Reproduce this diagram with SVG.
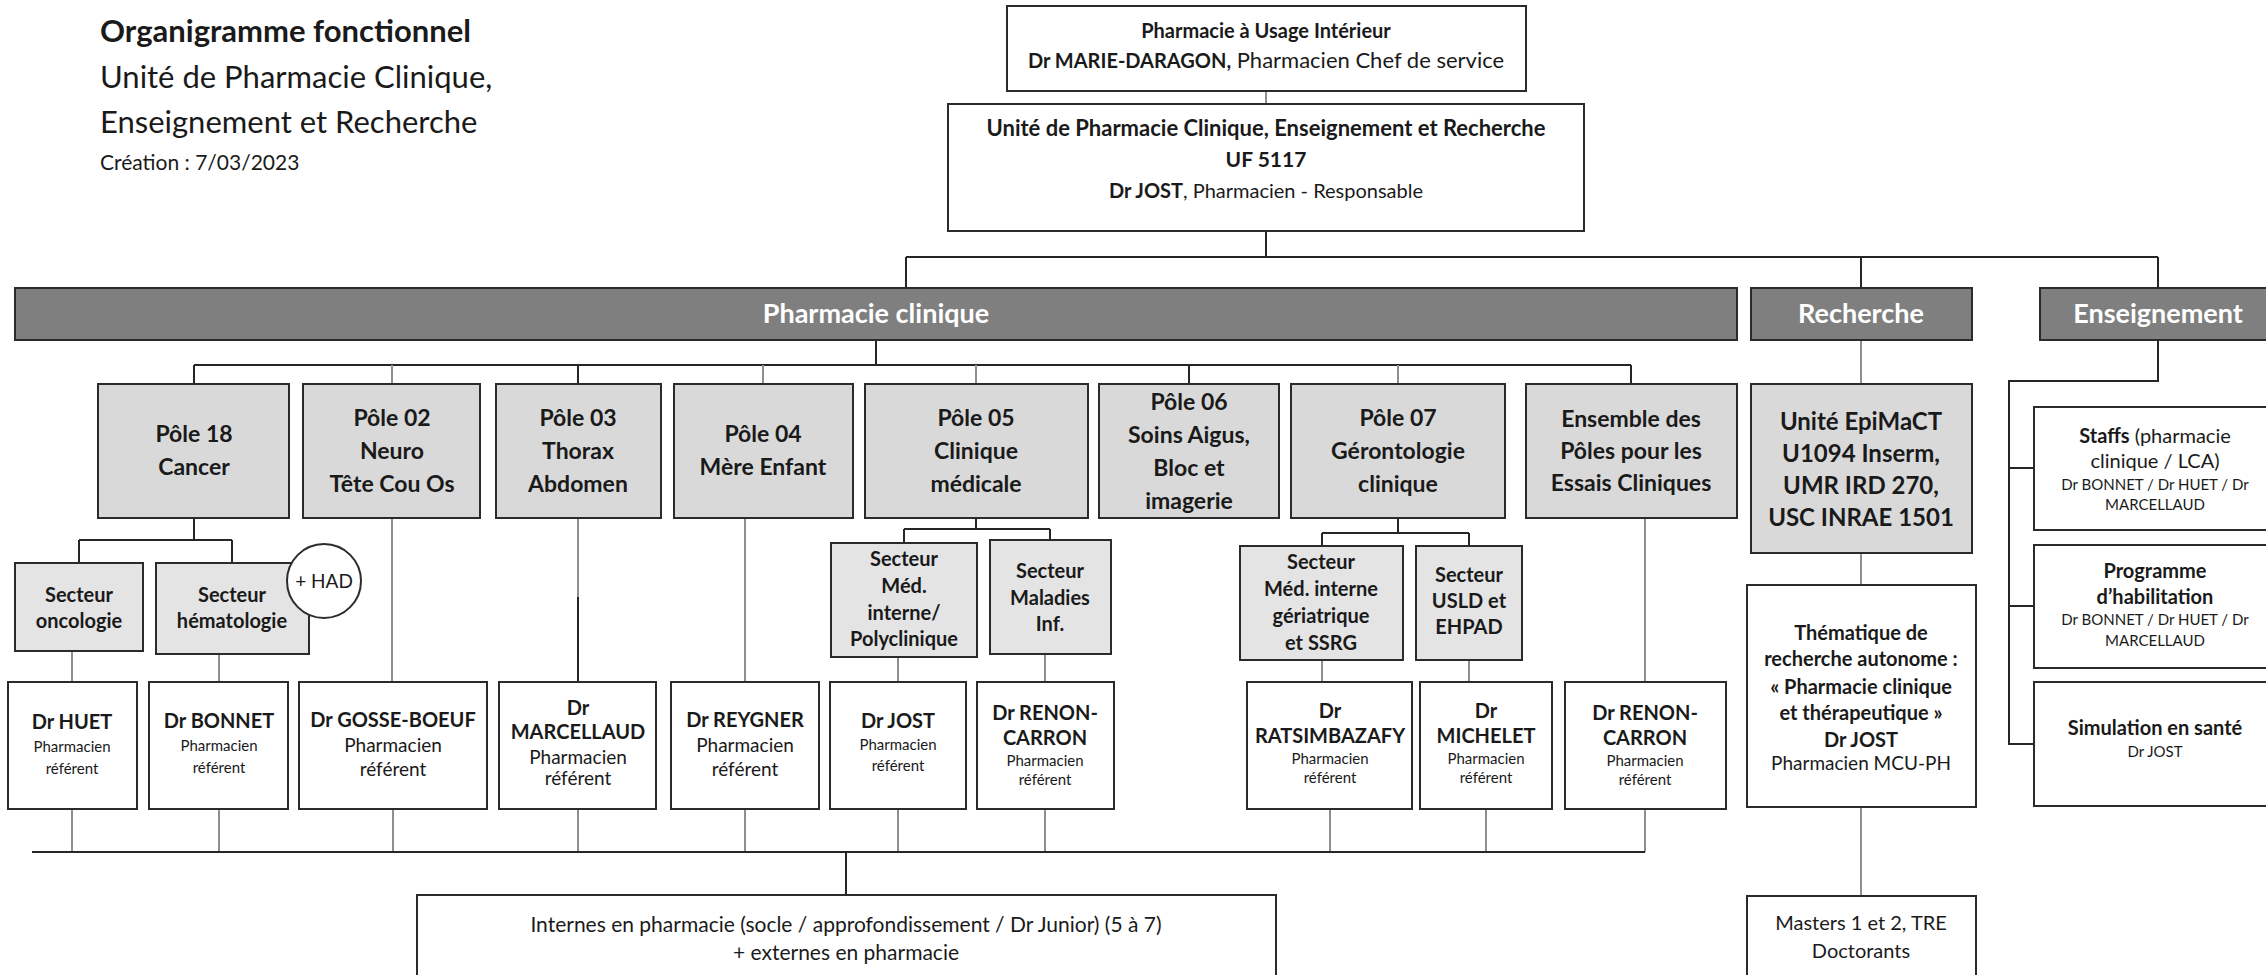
<svg xmlns="http://www.w3.org/2000/svg" width="2266" height="975" viewBox="0 0 2266 975">
<style>
text{font-family:Lato,"Open Sans","Liberation Sans",sans-serif;fill:#1a1a1a;text-anchor:middle}
.t{text-anchor:start}
.b{font-weight:bold}
.bar{fill:#7f7f7f;stroke:#2b2b2b;stroke-width:2}
.bt{fill:#fff;font-weight:bold;font-size:27px}
.pole{fill:#d9d9d9;stroke:#2b2b2b;stroke-width:2}
.sect{fill:#e4e4e4;stroke:#2b2b2b;stroke-width:2}
.box{fill:#fff;stroke:#2b2b2b;stroke-width:2}
.pt{font-weight:bold;font-size:23px}
.st{font-weight:bold;font-size:20px}
.dn{font-weight:bold;font-size:20px}
.sm{font-size:15px}
.rg{font-size:19px}
.dk{stroke:#262626;stroke-width:2;fill:none}
.gy{stroke:#8f8f8f;stroke-width:2;fill:none}
</style>

<g id="title">
<text class="t b" x="100" y="42" font-size="31">Organigramme fonctionnel</text>
<text class="t" x="100" y="88" font-size="31">Unité de Pharmacie Clinique,</text>
<text class="t" x="100" y="133" font-size="31">Enseignement et Recherche</text>
<text class="t" x="100" y="170" font-size="21">Création : 7/03/2023</text>
</g>

<g id="connectors">
<path class="gy" d="M1266 91V104"/>
<path class="dk" d="M1266 231V257M906 257H2158M906 257V288M1861 257V288M2158 257V288"/>
<path class="dk" d="M876 340V365M194 365H1631"/>
<path class="dk" d="M194 365V384M578 365V384M1189 365V384M1631 365V384"/>
<path class="gy" d="M392 365V384M763 365V384M976 365V384M1398 365V384"/>
<path class="gy" d="M1861 340V384M1861 553V585M1861 807V896"/>
<path class="dk" d="M194 518V540M79 540H232M79 540V563M232 540V563"/>
<path class="dk" d="M976 518V529M904 529H1050M904 529V543M1050 529V540"/>
<path class="dk" d="M1398 518V533M1322 533H1469M1322 533V546M1469 533V546"/>
<path class="gy" d="M72 651V682M219 654V682M392 518V682M578 518V597M745 518V682M898 657V682M1045 654V682M1322 660V682M1469 660V682M1645 518V682"/>
<path class="dk" d="M578 597V682"/>
<path class="gy" d="M72 809V852M219 809V852M393 809V852M578 809V852M745 809V852M898 809V852M1045 809V852M1330 809V852M1486 809V852M1645 809V852"/>
<path class="dk" d="M32 852H1645M846 852V895"/>
<path class="dk" d="M2158 340V381H2009V744H2034M2009 468H2034M2009 606H2034"/>
</g>

<g id="pui">
<rect class="box" x="1007" y="6" width="519" height="85"/>
<text class="b" x="1266" y="38" font-size="20">Pharmacie à Usage Intérieur</text>
<text x="1266" y="68" font-size="22"><tspan class="b" font-size="20">Dr MARIE-DARAGON,</tspan> Pharmacien Chef de service</text>
</g>

<g id="unite">
<rect class="box" x="948" y="104" width="636" height="127"/>
<text class="b" x="1266" y="136" font-size="22">Unité de Pharmacie Clinique, Enseignement et Recherche</text>
<text class="b" x="1266" y="167" font-size="21">UF 5117</text>
<text x="1266" y="198" font-size="20"><tspan class="b">Dr JOST</tspan>, Pharmacien - Responsable</text>
</g>

<g id="bar-pharmacie-clinique">
<rect class="bar" x="15" y="288" width="1722" height="52"/>
<text class="bt" x="876" y="323">Pharmacie clinique</text>
</g>
<g id="bar-recherche">
<rect class="bar" x="1751" y="288" width="221" height="52"/>
<text class="bt" x="1861" y="323">Recherche</text>
</g>
<g id="bar-enseignement">
<rect class="bar" x="2040" y="288" width="260" height="52"/>
<text class="bt" x="2158" y="323">Enseignement</text>
</g>

<g id="pole18">
<rect class="pole" x="98" y="384" width="191" height="134"/>
<text class="pt" x="194" y="442">Pôle 18</text>
<text class="pt" x="194" y="475">Cancer</text>
</g>
<g id="pole02">
<rect class="pole" x="303" y="384" width="177" height="134"/>
<text class="pt" x="392" y="426">Pôle 02</text>
<text class="pt" x="392" y="459">Neuro</text>
<text class="pt" x="392" y="492">Tête Cou Os</text>
</g>
<g id="pole03">
<rect class="pole" x="496" y="384" width="165" height="134"/>
<text class="pt" x="578" y="426">Pôle 03</text>
<text class="pt" x="578" y="459">Thorax</text>
<text class="pt" x="578" y="492">Abdomen</text>
</g>
<g id="pole04">
<rect class="pole" x="674" y="384" width="179" height="134"/>
<text class="pt" x="763" y="442">Pôle 04</text>
<text class="pt" x="763" y="475">Mère Enfant</text>
</g>
<g id="pole05">
<rect class="pole" x="865" y="384" width="223" height="134"/>
<text class="pt" x="976" y="426">Pôle 05</text>
<text class="pt" x="976" y="459">Clinique</text>
<text class="pt" x="976" y="492">médicale</text>
</g>
<g id="pole06">
<rect class="pole" x="1099" y="384" width="180" height="134"/>
<text class="pt" x="1189" y="410">Pôle 06</text>
<text class="pt" x="1189" y="443">Soins Aigus,</text>
<text class="pt" x="1189" y="476">Bloc et</text>
<text class="pt" x="1189" y="509">imagerie</text>
</g>
<g id="pole07">
<rect class="pole" x="1291" y="384" width="214" height="134"/>
<text class="pt" x="1398" y="426">Pôle 07</text>
<text class="pt" x="1398" y="459">Gérontologie</text>
<text class="pt" x="1398" y="492">clinique</text>
</g>
<g id="ensemble">
<rect class="pole" x="1526" y="384" width="211" height="134"/>
<text class="pt" x="1631" y="427">Ensemble des</text>
<text class="pt" x="1631" y="459">Pôles pour les</text>
<text class="pt" x="1631" y="491">Essais Cliniques</text>
</g>
<g id="epimact">
<rect class="pole" x="1751" y="384" width="221" height="169"/>
<text class="b" x="1861" y="430" font-size="24">Unité EpiMaCT</text>
<text class="b" x="1861" y="462" font-size="24">U1094 Inserm,</text>
<text class="b" x="1861" y="494" font-size="24">UMR IRD 270,</text>
<text class="b" x="1861" y="526" font-size="24">USC INRAE 1501</text>
</g>

<g id="secteur-oncologie">
<rect class="sect" x="15" y="563" width="128" height="88"/>
<text class="st" x="79" y="602">Secteur</text>
<text class="st" x="79" y="628">oncologie</text>
</g>
<g id="secteur-hematologie">
<rect class="sect" x="156" y="563" width="153" height="91"/>
<text class="st" x="232" y="602">Secteur</text>
<text class="st" x="232" y="628">hématologie</text>
</g>
<g id="had">
<circle cx="324" cy="581" r="37" fill="#fff" stroke="#2b2b2b" stroke-width="2"/>
<text x="324" y="588" font-size="19">+ HAD</text>
</g>
<g id="secteur-med-interne">
<rect class="sect" x="831" y="543" width="146" height="114"/>
<text class="st" x="904" y="566">Secteur</text>
<text class="st" x="904" y="593">Méd.</text>
<text class="st" x="904" y="620">interne/</text>
<text class="st" x="904" y="646">Polyclinique</text>
</g>
<g id="secteur-maladies-inf">
<rect class="sect" x="990" y="540" width="121" height="114"/>
<text class="st" x="1050" y="578">Secteur</text>
<text class="st" x="1050" y="605">Maladies</text>
<text class="st" x="1050" y="631">Inf.</text>
</g>
<g id="secteur-geriatrique">
<rect class="sect" x="1240" y="546" width="163" height="114"/>
<text class="st" x="1321" y="569">Secteur</text>
<text class="st" x="1321" y="596">Méd. interne</text>
<text class="st" x="1321" y="623">gériatrique</text>
<text class="st" x="1321" y="650">et SSRG</text>
</g>
<g id="secteur-usld">
<rect class="sect" x="1416" y="546" width="106" height="114"/>
<text class="st" x="1469" y="582">Secteur</text>
<text class="st" x="1469" y="608">USLD et</text>
<text class="st" x="1469" y="634">EHPAD</text>
</g>

<g id="dr-huet">
<rect class="box" x="8" y="682" width="129" height="127"/>
<text class="dn" x="72" y="729">Dr HUET</text>
<text class="sm" x="72" y="752">Pharmacien</text>
<text class="sm" x="72" y="774">référent</text>
</g>
<g id="dr-bonnet">
<rect class="box" x="149" y="682" width="139" height="127"/>
<text class="dn" x="219" y="728">Dr BONNET</text>
<text class="sm" x="219" y="751">Pharmacien</text>
<text class="sm" x="219" y="773">référent</text>
</g>
<g id="dr-gosse-boeuf">
<rect class="box" x="299" y="682" width="188" height="127"/>
<text class="dn" x="393" y="727">Dr GOSSE-BOEUF</text>
<text class="rg" x="393" y="752">Pharmacien</text>
<text class="rg" x="393" y="776">référent</text>
</g>
<g id="dr-marcellaud">
<rect class="box" x="499" y="682" width="157" height="127"/>
<text class="dn" x="578" y="715">Dr</text>
<text class="dn" x="578" y="739">MARCELLAUD</text>
<text class="rg" x="578" y="764">Pharmacien</text>
<text class="rg" x="578" y="785">référent</text>
</g>
<g id="dr-reygner">
<rect class="box" x="671" y="682" width="148" height="127"/>
<text class="dn" x="745" y="727">Dr REYGNER</text>
<text class="rg" x="745" y="752">Pharmacien</text>
<text class="rg" x="745" y="776">référent</text>
</g>
<g id="dr-jost">
<rect class="box" x="830" y="682" width="136" height="127"/>
<text class="dn" x="898" y="728">Dr JOST</text>
<text class="sm" x="898" y="750">Pharmacien</text>
<text class="sm" x="898" y="771">référent</text>
</g>
<g id="dr-renon-carron-1">
<rect class="box" x="977" y="682" width="137" height="127"/>
<text class="dn" x="1045" y="720">Dr RENON-</text>
<text class="dn" x="1045" y="745">CARRON</text>
<text class="sm" x="1045" y="766">Pharmacien</text>
<text class="sm" x="1045" y="785">référent</text>
</g>
<g id="dr-ratsimbazafy">
<rect class="box" x="1247" y="682" width="165" height="127"/>
<text class="dn" x="1330" y="718">Dr</text>
<text class="dn" x="1330" y="743">RATSIMBAZAFY</text>
<text class="sm" x="1330" y="764">Pharmacien</text>
<text class="sm" x="1330" y="783">référent</text>
</g>
<g id="dr-michelet">
<rect class="box" x="1420" y="682" width="132" height="127"/>
<text class="dn" x="1486" y="718">Dr</text>
<text class="dn" x="1486" y="743">MICHELET</text>
<text class="sm" x="1486" y="764">Pharmacien</text>
<text class="sm" x="1486" y="783">référent</text>
</g>
<g id="dr-renon-carron-2">
<rect class="box" x="1565" y="682" width="161" height="127"/>
<text class="dn" x="1645" y="720">Dr RENON-</text>
<text class="dn" x="1645" y="745">CARRON</text>
<text class="sm" x="1645" y="766">Pharmacien</text>
<text class="sm" x="1645" y="785">référent</text>
</g>

<g id="thematique">
<rect class="box" x="1747" y="585" width="229" height="222"/>
<text class="st" x="1861" y="640">Thématique de</text>
<text class="st" x="1861" y="666">recherche autonome :</text>
<text class="st" x="1861" y="694">« Pharmacie clinique</text>
<text class="st" x="1861" y="720">et thérapeutique »</text>
<text class="st" x="1861" y="747">Dr JOST</text>
<text x="1861" y="770" font-size="19">Pharmacien MCU-PH</text>
</g>

<g id="staffs">
<rect class="box" x="2034" y="407" width="260" height="123"/>
<text x="2155" y="443" font-size="20"><tspan class="b">Staffs</tspan> (pharmacie</text>
<text x="2155" y="468" font-size="20">clinique / LCA)</text>
<text class="sm" x="2155" y="490">Dr BONNET / Dr HUET / Dr</text>
<text class="sm" x="2155" y="510">MARCELLAUD</text>
</g>
<g id="programme">
<rect class="box" x="2034" y="545" width="260" height="123"/>
<text class="st" x="2155" y="578">Programme</text>
<text class="st" x="2155" y="604">d’habilitation</text>
<text class="sm" x="2155" y="625">Dr BONNET / Dr HUET / Dr</text>
<text class="sm" x="2155" y="646">MARCELLAUD</text>
</g>
<g id="simulation">
<rect class="box" x="2034" y="682" width="260" height="124"/>
<text class="st" x="2155" y="735">Simulation en santé</text>
<text class="sm" x="2155" y="757">Dr JOST</text>
</g>

<g id="internes">
<rect class="box" x="417" y="895" width="859" height="95"/>
<text x="846" y="932" font-size="21">Internes en pharmacie (socle / approfondissement / Dr Junior) (5 à 7)</text>
<text x="846" y="960" font-size="21">+ externes en pharmacie</text>
</g>
<g id="masters">
<rect class="box" x="1747" y="896" width="229" height="95"/>
<text x="1861" y="930" font-size="20">Masters 1 et 2, TRE</text>
<text x="1861" y="958" font-size="20">Doctorants</text>
</g>
</svg>
